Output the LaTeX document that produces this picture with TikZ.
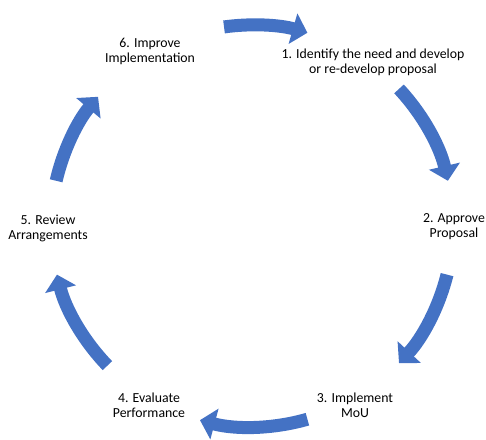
\documentclass[tikz,border=0pt]{standalone}
\usepackage{fontspec}
\setmainfont{Carlito}
\usetikzlibrary{arrows.meta}
\definecolor{cycleblue}{HTML}{4472C4}

\begin{document}
\begin{tikzpicture}[x=1pt,y=1pt]

\tikzset{stage/.style = {align=center,font=\fontsize{13.8}{15}\selectfont,inner sep=0pt}}
\tikzset{turn/.style = {draw=cycleblue,line width=13pt,-{Triangle[length=15pt,width=31pt]},cycleblue}}
\useasboundingbox (0,0) rectangle (486,439);
\coordinate (c) at (252,213);
%stages
\node[stage] (1) at (373,377) {1. Identify the need and develop\\or re-develop proposal};
\node[stage] (2) at (454,212) {2. Approve\\Proposal};
\node[stage] (3) at (355,34) {3. Implement\\MoU};
\node[stage] (4) at (149,34) {4. Evaluate\\Performance};
\node[stage] (5) at (48,211) {5. Review\\Arrangements};
\node[stage] (6) at (150,388) {6. Improve\\Implementation};
%arrows
\draw[turn] ([shift={(98:201)}]c) arc[start angle=98, end angle=74, radius=201];
\draw[turn] ([shift={(43:201)}]c) arc[start angle=43, end angle=13, radius=201];
\draw[turn] ([shift={(-14:201)}]c) arc[start angle=-14, end angle=-43, radius=201];
\draw[turn] ([shift={(-74:201)}]c) arc[start angle=-74, end angle=-105, radius=201];
\draw[turn] ([shift={(-136:201)}]c) arc[start angle=-136, end angle=-166, radius=201];
\draw[turn] ([shift={(167:201)}]c) arc[start angle=167, end angle=140, radius=201];

\end{tikzpicture}
\end{document}
